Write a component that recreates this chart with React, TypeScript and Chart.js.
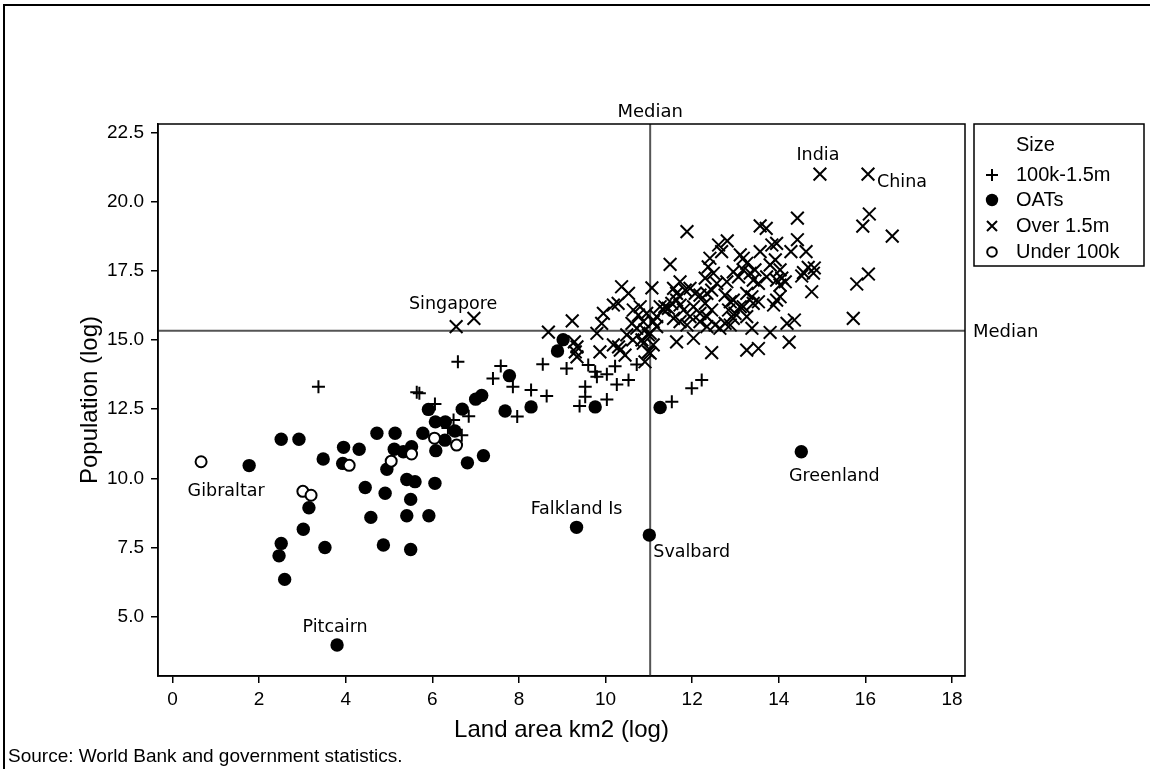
import React, { useEffect, useRef } from 'react';
import { Chart, registerables } from 'chart.js';

Chart.register(...registerables);

// ---------- data ----------
const xTicks = [0, 2, 4, 6, 8, 10, 12, 14, 16, 18];
const yTicks = [5.0, 7.5, 10.0, 12.5, 15.0, 17.5, 20.0, 22.5];
const xMin = -0.335;
const xMax = 18.3;
const yMin = 2.86;
const yMax = 22.8;
const medianX = 11.03;
const medianY = 15.33;

const seriesNames = ['100k-1.5m', 'OATs', 'Over 1.5m', 'Under 100k'];
const legendTitle = 'Size';
const xTitle = 'Land area km2 (log)';
const yTitle = 'Population (log)';
const sourceNote = 'Source: World Bank and government statistics.';
const medianText = 'Median';

// 100k-1.5m
const midPts: [number, number][] = [
  [3.37, 13.31], [5.64, 13.11], [5.70, 13.07], [6.06, 12.69], [6.59, 14.21], [6.84, 12.24],
  [6.49, 12.11], [6.36, 11.82], [7.58, 14.06], [7.40, 13.61], [7.86, 13.31], [8.28, 13.19],
  [8.64, 12.97], [7.96, 12.23], [8.55, 14.12], [9.10, 13.97], [9.60, 14.09], [9.76, 13.85],
  [9.80, 13.67], [10.03, 13.76], [10.22, 14.05], [10.72, 14.11], [10.26, 13.39], [10.53, 13.55],
  [9.53, 13.31], [9.53, 12.95], [9.40, 12.61], [10.03, 12.85], [11.53, 12.77], [11.99, 13.25],
  [12.22, 13.55], [6.68, 11.56],
];

// OATs
const oatPts: [number, number][] = [
  [1.77, 10.46], [2.51, 11.41], [2.92, 11.41], [3.48, 10.70], [3.95, 11.12], [4.31, 11.05],
  [3.93, 10.54], [4.72, 11.63], [5.14, 11.63], [5.12, 11.05], [5.33, 10.96], [5.52, 11.14],
  [4.95, 10.33], [5.78, 11.63], [5.91, 12.49], [6.07, 12.04], [6.30, 12.04], [4.45, 9.67],
  [4.91, 9.46], [5.41, 9.96], [5.60, 9.88], [6.06, 9.82], [5.50, 9.24], [3.15, 8.94],
  [3.02, 8.16], [4.58, 8.59], [5.41, 8.65], [5.92, 8.65], [2.51, 7.65], [2.46, 7.20],
  [3.52, 7.50], [4.87, 7.59], [5.50, 7.43], [2.59, 6.35], [3.80, 3.98], [6.69, 12.50],
  [6.52, 11.71], [7.00, 12.86], [7.14, 12.99], [7.78, 13.71], [7.68, 12.43], [8.28, 12.58],
  [8.89, 14.60], [9.02, 15.01], [9.76, 12.58], [11.26, 12.56], [9.33, 8.23], [11.01, 7.95],
  [14.52, 10.96], [6.81, 10.56], [7.18, 10.82], [6.29, 11.38], [6.08, 11.00],
];

// Over 1.5m
const bigPts: [number, number][] = [
  [6.55, 15.48], [6.96, 15.78], [8.68, 15.28], [9.23, 15.69], [9.28, 14.93], [9.34, 14.75],
  [9.30, 14.57], [9.34, 14.39], [9.80, 15.24], [9.91, 15.60], [9.95, 15.96], [10.18, 16.26],
  [10.29, 16.32], [10.37, 16.92], [10.53, 16.68], [11.07, 16.88], [9.87, 14.57], [10.18, 14.82],
  [10.30, 14.75], [10.34, 14.63], [10.45, 14.45], [10.99, 14.57], [10.64, 16.08], [10.76, 15.90],
  [10.87, 15.66], [10.61, 15.60], [10.72, 15.42], [10.91, 15.36], [10.84, 15.00], [10.99, 15.18],
  [11.10, 14.82], [10.49, 15.18], [10.63, 15.00], [11.18, 15.48], [11.88, 18.91], [11.49, 17.73],
  [13.57, 19.12], [13.71, 19.03], [14.43, 19.40], [12.61, 18.43], [12.81, 18.58], [12.68, 18.19],
  [12.41, 17.95], [12.37, 17.64], [13.11, 18.07], [13.18, 17.95], [13.26, 17.77], [13.57, 18.19],
  [13.84, 18.43], [13.95, 18.49], [14.43, 18.62], [13.80, 17.71], [13.92, 17.89], [14.03, 17.53],
  [14.28, 18.19], [14.63, 18.19], [14.53, 17.31], [14.57, 17.43], [14.68, 17.62], [14.82, 17.60],
  [14.80, 17.41], [14.76, 16.74], [12.30, 17.23], [12.49, 17.41], [12.57, 17.04], [12.95, 17.46],
  [13.07, 17.28], [13.18, 17.53], [13.34, 17.41], [13.45, 17.53], [13.41, 17.16], [13.53, 17.04],
  [13.72, 17.28], [13.95, 17.16], [14.07, 17.23], [14.03, 16.98], [14.15, 17.10], [11.72, 17.10],
  [11.57, 16.86], [11.84, 16.80], [11.64, 16.68], [11.95, 16.86], [12.07, 16.68], [12.18, 16.62],
  [12.34, 16.68], [12.45, 16.80], [12.30, 16.32], [12.80, 17.10], [12.76, 16.62], [12.95, 16.44],
  [12.88, 16.38], [13.26, 16.68], [13.38, 16.56], [13.18, 16.20], [13.41, 16.32], [13.53, 16.38],
  [13.88, 16.26], [13.95, 16.44], [14.03, 16.56], [14.36, 15.72], [11.26, 16.20], [11.37, 16.20],
  [11.45, 16.14], [11.34, 16.08], [10.80, 16.20], [10.95, 15.96], [11.10, 15.66], [11.18, 15.84],
  [11.53, 16.32], [11.64, 16.44], [11.72, 16.26], [11.80, 16.08], [12.03, 16.20], [11.95, 15.84],
  [12.18, 15.96], [12.34, 15.84], [12.45, 16.08], [11.72, 15.66], [11.57, 15.78], [11.88, 15.54],
  [12.18, 15.66], [12.34, 15.48], [12.53, 15.54], [12.64, 15.42], [12.76, 15.60], [12.88, 15.54],
  [12.95, 15.78], [12.84, 16.08], [12.99, 15.96], [13.11, 16.20], [13.26, 15.84], [13.38, 15.42],
  [13.80, 15.27], [14.19, 15.60], [14.24, 14.92], [11.03, 15.24], [10.87, 14.88], [11.03, 14.52],
  [10.91, 14.21], [11.64, 14.93], [12.03, 15.06], [12.45, 14.54], [13.26, 14.63], [13.53, 14.69],
  [14.95, 20.99], [16.06, 20.99], [16.09, 19.55], [15.94, 19.11], [16.62, 18.75], [16.07, 17.38],
  [15.80, 17.02], [15.72, 15.78],
];

// Under 100k
const smallPts: [number, number][] = [
  [0.66, 10.60], [3.01, 9.53], [3.20, 9.39], [4.08, 10.47], [5.05, 10.62], [5.52, 10.88],
  [6.05, 11.45], [6.56, 11.20],
];

// named points (label text, data position of the point)
const pointNames = ['India', 'China', 'Singapore', 'Gibraltar', 'Pitcairn', 'Falkland Is', 'Svalbard', 'Greenland'];
const pointNameX = [14.95, 16.06, 6.55, 1.77, 3.80, 9.33, 11.01, 14.52];
const pointNameY = [20.99, 20.99, 15.48, 10.46, 3.98, 8.23, 7.95, 10.96];

// label placement styling (pixel offsets from the point, alignment)
const nameStyle: Record<string, { dx: number; dy: number; align: CanvasTextAlign }> = {
  India: { dx: -2, dy: -19, align: 'center' },
  China: { dx: 9, dy: 8, align: 'left' },
  Singapore: { dx: -3, dy: -22, align: 'center' },
  Gibraltar: { dx: -23, dy: 26, align: 'center' },
  Pitcairn: { dx: -2, dy: -18, align: 'center' },
  'Falkland Is': { dx: 0, dy: -18, align: 'center' },
  Svalbard: { dx: 4, dy: 17, align: 'left' },
  Greenland: { dx: 33, dy: 25, align: 'center' },
};

const SANS = '"Liberation Sans", Arial, sans-serif';
const DEJAVU = '"DejaVu Sans", Verdana, sans-serif';

const toXY = (arr: [number, number][]) => arr.map(([x, y]) => ({ x, y }));

const W = 1150;
const H = 769;

function drawSymbol(ctx: CanvasRenderingContext2D, kind: number, x: number, y: number) {
  ctx.save();
  ctx.strokeStyle = '#000';
  ctx.fillStyle = '#000';
  ctx.lineWidth = 2;
  ctx.beginPath();
  if (kind === 0) {
    ctx.moveTo(x - 6, y); ctx.lineTo(x + 6, y);
    ctx.moveTo(x, y - 6); ctx.lineTo(x, y + 6);
    ctx.stroke();
  } else if (kind === 1) {
    ctx.arc(x, y, 6.2, 0, Math.PI * 2);
    ctx.fill();
  } else if (kind === 2) {
    ctx.moveTo(x - 5, y - 5); ctx.lineTo(x + 5, y + 5);
    ctx.moveTo(x + 5, y - 5); ctx.lineTo(x - 5, y + 5);
    ctx.stroke();
  } else {
    ctx.arc(x, y, 4.8, 0, Math.PI * 2);
    ctx.stroke();
  }
  ctx.restore();
}

const decorPlugin = {
  id: 'decor',
  beforeDraw(chart: any) {
    const ctx = chart.ctx as CanvasRenderingContext2D;
    ctx.save();
    ctx.fillStyle = '#fff';
    ctx.fillRect(0, 0, chart.width, chart.height);
    ctx.restore();
  },
  afterDraw(chart: any) {
    const ctx = chart.ctx as CanvasRenderingContext2D;
    const a = chart.chartArea;
    const xs = chart.scales.x;
    const ys = chart.scales.y;
    ctx.save();
    // plot frame
    ctx.strokeStyle = '#000';
    ctx.lineWidth = 1.5;
    ctx.strokeRect(a.left, a.top, a.right - a.left, a.bottom - a.top);
    // outer frame
    ctx.lineWidth = 2;
    ctx.beginPath();
    ctx.moveTo(4, H);
    ctx.lineTo(4, 5);
    ctx.lineTo(W, 5);
    ctx.stroke();

    // median labels
    ctx.fillStyle = '#000';
    ctx.font = `18px ${DEJAVU}`;
    ctx.textBaseline = 'middle';
    ctx.textAlign = 'center';
    ctx.fillText(medianText, xs.getPixelForValue(medianX), a.top - 12);
    ctx.textAlign = 'left';
    ctx.fillText(medianText, a.right + 8, ys.getPixelForValue(medianY) + 2);

    // point names
    ctx.font = `17.5px ${DEJAVU}`;
    pointNames.forEach((name, i) => {
      const st = nameStyle[name];
      const px = xs.getPixelForValue(pointNameX[i]) + st.dx;
      const py = ys.getPixelForValue(pointNameY[i]) + st.dy;
      ctx.textAlign = st.align;
      ctx.fillText(name, px, py);
    });

    // legend
    const lx = a.right + 9;
    const ly = a.top;
    const lw = 170;
    const lh = 142;
    ctx.lineWidth = 1.5;
    ctx.strokeRect(lx, ly, lw, lh);
    ctx.font = `20px ${SANS}`;
    ctx.textAlign = 'left';
    ctx.fillText(legendTitle, lx + 42, ly + 21);
    const rowY = [51, 76, 102, 128];
    seriesNames.forEach((n, i) => {
      drawSymbol(ctx, i, lx + 18, ly + rowY[i]);
      ctx.fillText(n, lx + 42, ly + rowY[i]);
    });

    // source
    ctx.font = `19px ${SANS}`;
    ctx.textAlign = 'left';
    ctx.fillText(sourceNote, 8, 757);
    ctx.restore();
  },
};

export default function App() {
  const ref = useRef<HTMLCanvasElement | null>(null);
  useEffect(() => {
    if (!ref.current) return;
    const chart = new Chart(ref.current, {
      type: 'scatter',
      data: {
        datasets: [
          {
            label: 'medianV',
            data: [{ x: medianX, y: yMin }, { x: medianX, y: yMax }],
            showLine: true,
            pointRadius: 0,
            borderColor: '#555',
            borderWidth: 2,
            order: 10,
          },
          {
            label: 'medianH',
            data: [{ x: xMin, y: medianY }, { x: xMax, y: medianY }],
            showLine: true,
            pointRadius: 0,
            borderColor: '#555',
            borderWidth: 2,
            order: 10,
          },
          {
            label: seriesNames[0],
            data: toXY(midPts),
            pointStyle: 'cross',
            pointRadius: 6.5,
            borderColor: '#000',
            backgroundColor: '#000',
            borderWidth: 2,
            order: 4,
          },
          {
            label: seriesNames[1],
            data: toXY(oatPts),
            pointStyle: 'circle',
            pointRadius: 6.7,
            borderColor: '#000',
            backgroundColor: '#000',
            borderWidth: 0,
            order: 3,
          },
          {
            label: seriesNames[2],
            data: toXY(bigPts),
            pointStyle: 'crossRot',
            pointRadius: 9,
            borderColor: '#000',
            backgroundColor: '#000',
            borderWidth: 2,
            order: 2,
          },
          {
            label: seriesNames[3],
            data: toXY(smallPts),
            pointStyle: 'circle',
            pointRadius: 5.5,
            borderColor: '#000',
            backgroundColor: '#fff',
            borderWidth: 2,
            order: 1,
          },
        ] as any,
      },
      options: {
        animation: false,
        responsive: false,
        devicePixelRatio: 1,
        events: [],
        layout: { padding: { left: 0, top: 124, right: W - 965, bottom: 0 } },
        plugins: {
          legend: { display: false },
          tooltip: { enabled: false },
          title: { display: false },
        },
        scales: {
          x: {
            type: 'linear',
            min: xMin,
            max: xMax,
            afterBuildTicks: (s: any) => {
              s.ticks = xTicks.map((v) => ({ value: v }));
            },
            afterFit: (s: any) => {
              s.height = H - 676;
            },
            ticks: {
              color: '#000',
              font: { family: SANS, size: 19 },
              padding: 5,
              maxRotation: 0,
              autoSkip: false,
              callback: (v: any) => String(v),
            },
            grid: {
              display: true,
              drawOnChartArea: false,
              drawTicks: true,
              tickLength: 7,
              color: '#000',
              lineWidth: 1.5,
            },
            border: { display: true, color: '#000', width: 1.5 },
            title: {
              display: true,
              text: xTitle,
              color: '#000',
              font: { family: SANS, size: 24 },
              padding: { top: 0, bottom: 24 },
            },
          },
          y: {
            type: 'linear',
            min: yMin,
            max: yMax,
            afterBuildTicks: (s: any) => {
              s.ticks = yTicks.map((v) => ({ value: v }));
            },
            afterFit: (s: any) => {
              s.width = 158;
            },
            ticks: {
              color: '#000',
              font: { family: SANS, size: 19 },
              padding: 7,
              autoSkip: false,
              callback: (v: any) => Number(v).toFixed(1),
            },
            grid: {
              display: true,
              drawOnChartArea: false,
              drawTicks: true,
              tickLength: 7,
              color: '#000',
              lineWidth: 1.5,
            },
            border: { display: true, color: '#000', width: 1.5 },
            title: {
              display: true,
              text: yTitle,
              color: '#000',
              font: { family: SANS, size: 24 },
              padding: { top: 76, bottom: 0 },
            },
          },
        },
      },
      plugins: [decorPlugin],
    } as any);
    return () => chart.destroy();
  }, []);

  return (
    <div style={{ position: 'absolute', left: 0, top: 0, width: W, height: H, background: '#fff' }}>
      <canvas ref={ref} width={W} height={H} style={{ display: 'block', width: W, height: H }} />
    </div>
  );
}
